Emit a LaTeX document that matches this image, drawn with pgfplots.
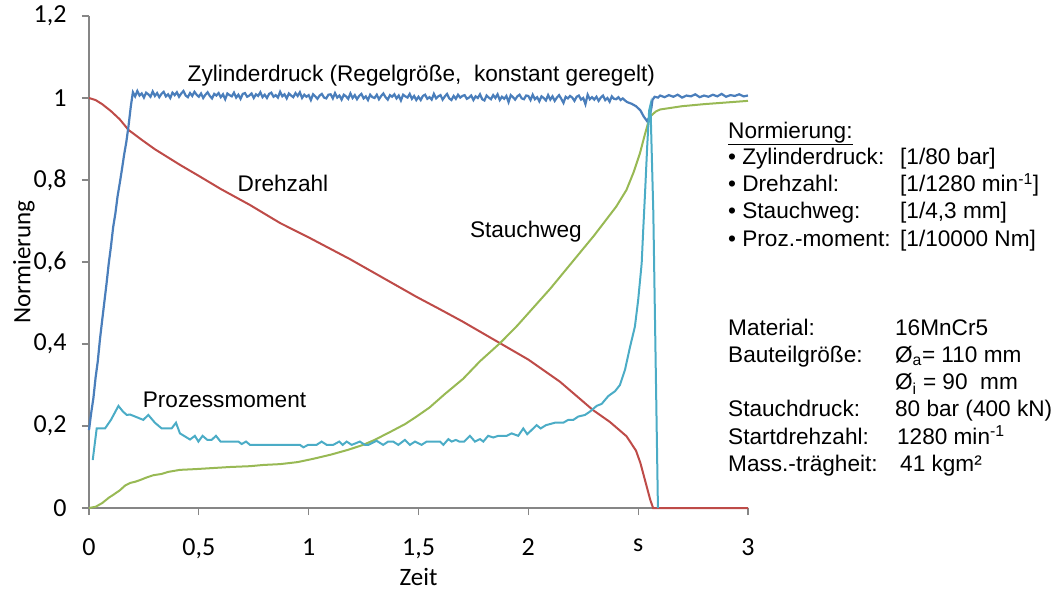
\documentclass[border=0pt]{standalone}
\usepackage{pgfplots}
\pgfplotsset{compat=1.18}
\usepackage{fontspec}
\setmainfont{Liberation Sans}
\newfontfamily\calibri{Carlito}
\definecolor{cblue}{HTML}{4A7EBB}
\definecolor{cred}{HTML}{BE4B48}
\definecolor{cgreen}{HTML}{98B954}
\definecolor{ccyan}{HTML}{4BACC6}
\definecolor{caxis}{HTML}{868686}

\pgfplotstableread{
x y
0.000 1.000
0.030 0.995
0.060 0.985
0.100 0.968
0.140 0.948
0.180 0.922
0.240 0.898
0.300 0.875
0.360 0.855
0.414 0.837
0.500 0.810
0.600 0.778
0.733 0.739
0.870 0.695
1.000 0.660
1.188 0.607
1.300 0.573
1.491 0.515
1.600 0.484
1.700 0.455
1.871 0.402
2.000 0.362
2.144 0.308
2.294 0.239
2.371 0.210
2.447 0.175
2.490 0.140
2.510 0.110
2.535 0.060
2.555 0.020
2.568 0.000
2.650 0.000
2.800 0.000
3.000 0.000
}\drehzahl

\pgfplotstableread{
x y
0.000 0.000
0.030 0.003
0.060 0.012
0.090 0.025
0.110 0.032
0.140 0.043
0.165 0.055
0.187 0.061
0.210 0.064
0.232 0.068
0.260 0.074
0.293 0.080
0.330 0.083
0.360 0.088
0.414 0.093
0.490 0.095
0.550 0.097
0.642 0.100
0.733 0.102
0.794 0.105
0.870 0.107
0.950 0.112
1.021 0.120
1.100 0.130
1.180 0.142
1.248 0.154
1.300 0.166
1.380 0.188
1.440 0.205
1.491 0.223
1.550 0.245
1.620 0.278
1.703 0.315
1.780 0.358
1.871 0.402
1.950 0.445
2.000 0.475
2.100 0.535
2.200 0.600
2.300 0.665
2.400 0.735
2.447 0.776
2.480 0.820
2.508 0.865
2.530 0.910
2.553 0.954
2.580 0.967
2.600 0.972
2.700 0.980
2.800 0.985
2.900 0.989
3.000 0.993
}\stauchweg

\pgfplotstableread{
x y
0.017 0.117
0.035 0.194
0.073 0.194
0.100 0.215
0.134 0.249
0.155 0.235
0.172 0.227
0.187 0.228
0.247 0.215
0.270 0.227
0.300 0.208
0.331 0.194
0.376 0.194
0.396 0.208
0.414 0.182
0.460 0.167
0.482 0.176
0.498 0.162
0.517 0.176
0.539 0.166
0.558 0.166
0.578 0.176
0.599 0.162
0.680 0.162
0.695 0.156
0.715 0.162
0.733 0.154
0.960 0.154
0.976 0.148
0.998 0.154
1.036 0.154
1.059 0.162
1.082 0.154
1.112 0.154
1.139 0.162
1.155 0.154
1.173 0.162
1.196 0.154
1.233 0.162
1.256 0.154
1.272 0.154
1.309 0.164
1.339 0.154
1.362 0.162
1.385 0.162
1.408 0.154
1.438 0.166
1.461 0.154
1.484 0.162
1.514 0.154
1.537 0.162
1.598 0.162
1.613 0.154
1.636 0.168
1.651 0.162
1.670 0.166
1.686 0.162
1.708 0.162
1.734 0.176
1.757 0.162
1.780 0.168
1.795 0.162
1.817 0.176
1.840 0.172
1.863 0.176
1.901 0.176
1.924 0.182
1.954 0.176
1.977 0.194
1.995 0.180
2.038 0.202
2.056 0.194
2.080 0.202
2.121 0.208
2.159 0.208
2.182 0.215
2.205 0.215
2.227 0.223
2.258 0.227
2.280 0.235
2.311 0.249
2.334 0.254
2.364 0.273
2.395 0.285
2.417 0.300
2.440 0.337
2.463 0.393
2.485 0.442
2.500 0.507
2.516 0.597
2.523 0.678
2.532 0.776
2.541 0.881
2.550 0.970
2.556 0.983
2.569 0.720
2.590 0.000
}\moment

\pgfplotstableread{
x y
0.000 0.190
0.010 0.232
0.020 0.268
0.030 0.318
0.040 0.358
0.050 0.412
0.060 0.458
0.070 0.503
0.080 0.548
0.090 0.597
0.100 0.638
0.110 0.685
0.120 0.718
0.130 0.760
0.140 0.792
0.150 0.826
0.160 0.862
0.170 0.893
0.180 0.932
0.190 0.978
0.197 1.004
0.20 1.014
0.21 1.004
0.22 1.017
0.23 1.006
0.24 1.011
0.25 1.001
0.26 1.013
0.27 1.009
0.28 1.003
0.29 1.016
0.30 1.005
0.31 1.012
0.32 1.002
0.33 1.010
0.34 1.015
0.35 1.004
0.36 1.009
0.37 1.000
0.38 1.013
0.39 1.007
0.40 1.014
0.41 1.003
0.42 1.011
0.43 1.017
0.44 1.006
0.45 1.002
0.46 1.012
0.47 1.005
0.48 1.015
0.49 1.008
0.50 1.003
0.51 1.011
0.52 1.000
0.53 1.008
0.54 1.014
0.55 1.005
0.56 0.999
0.57 1.010
0.58 1.006
0.59 1.012
0.60 1.002
0.61 1.009
0.62 0.997
0.63 1.011
0.64 1.007
0.65 1.004
0.66 1.013
0.67 1.001
0.68 1.008
0.69 0.998
0.70 1.010
0.71 1.012
0.72 1.003
0.73 1.006
0.74 1.011
0.75 1.000
0.76 1.009
0.77 1.005
0.78 1.014
0.79 1.002
0.80 1.008
0.81 1.000
0.82 1.010
0.83 1.013
0.84 1.003
0.85 1.007
0.86 1.001
0.87 1.015
0.88 1.004
0.89 1.009
0.90 0.999
0.91 1.011
0.92 1.006
0.93 1.002
0.94 1.012
0.95 1.005
0.96 1.014
0.97 1.000
0.98 1.008
0.99 1.003
1.00 1.007
1.01 0.995
1.02 1.009
1.03 1.004
1.04 0.998
1.05 1.006
1.06 1.010
1.07 1.001
1.08 0.999
1.09 1.008
1.10 1.009
1.11 0.999
1.12 1.012
1.13 1.001
1.14 1.006
1.15 0.996
1.16 1.008
1.17 1.004
1.18 0.998
1.19 1.011
1.20 1.000
1.21 1.007
1.22 0.997
1.23 1.005
1.24 1.010
1.25 0.999
1.26 1.004
1.27 0.995
1.28 1.008
1.29 1.002
1.30 1.000
1.31 1.008
1.32 0.997
1.33 1.005
1.34 1.011
1.35 1.002
1.36 0.996
1.37 1.007
1.38 1.003
1.39 1.009
1.40 0.999
1.41 1.006
1.42 0.994
1.43 1.008
1.44 1.004
1.45 1.001
1.46 1.010
1.47 0.998
1.48 1.005
1.49 0.995
1.50 1.003
1.51 0.995
1.52 1.005
1.53 1.008
1.54 0.998
1.55 1.002
1.56 0.996
1.57 1.010
1.58 0.999
1.59 1.004
1.60 1.007
1.61 0.996
1.62 1.004
1.63 1.010
1.64 0.999
1.65 0.995
1.66 1.005
1.67 0.998
1.68 1.008
1.69 1.001
1.70 1.005
1.71 1.007
1.72 0.998
1.73 1.001
1.74 1.006
1.75 0.995
1.76 1.004
1.77 1.000
1.78 1.009
1.79 0.997
1.80 0.994
1.81 1.006
1.82 1.001
1.83 0.997
1.84 1.007
1.85 1.000
1.86 1.009
1.87 0.995
1.88 1.003
1.89 0.998
1.90 1.005
1.91 0.990
1.92 1.007
1.93 1.002
1.94 0.996
1.95 1.004
1.96 1.008
1.97 0.999
1.98 0.997
1.99 1.006
2.00 1.005
2.01 0.995
2.02 1.008
2.03 0.997
2.04 1.002
2.05 0.992
2.06 1.004
2.07 1.000
2.08 0.994
2.09 1.007
2.10 0.996
2.11 1.004
2.12 0.993
2.13 1.001
2.14 1.007
2.15 0.998
2.16 0.988
2.17 1.003
2.18 0.999
2.19 1.005
2.20 1.001
2.21 0.993
2.22 1.003
2.23 1.006
2.24 0.996
2.25 1.000
2.26 0.985
2.27 1.008
2.28 0.997
2.29 1.002
2.30 0.996
2.31 1.003
2.32 0.993
2.33 1.001
2.34 1.006
2.35 0.995
2.36 1.000
2.37 0.991
2.38 1.004
2.39 0.998
2.40 0.997
2.41 1.002
2.42 0.995
2.43 0.999
2.44 0.994
2.45 0.990
2.47 0.986
2.49 0.980
2.51 0.970
2.525 0.955
2.54 0.944
2.55 0.952
2.56 0.975
2.565 0.995
2.575 1.003
2.59 1.001
2.60 1.006
2.62 1.002
2.64 1.007
2.66 1.003
2.68 1.008
2.70 1.001
2.72 1.006
2.74 1.004
2.76 1.009
2.78 1.002
2.80 1.006
2.82 1.003
2.84 1.008
2.86 1.004
2.88 1.010
2.90 1.003
2.92 1.007
2.94 1.005
2.96 1.009
2.98 1.004
3.00 1.006
}\zylinder

\begin{document}
\begin{tikzpicture}
\useasboundingbox (-89pt,-86pt) rectangle (965pt,508pt);
\begin{axis}[
  scale only axis,
  width=659pt, height=492pt,
  xmin=0, xmax=3, ymin=0, ymax=1.2,
  axis x line=bottom, axis y line=left,
  axis line style={-, caxis, line width=1.3pt},
  tick style={caxis, line width=1.3pt},
  tick align=outside,
  major tick length=7pt,
  xtick={0,0.5,1,1.5,2,2.5,3},
  xticklabels={0,{0,5},1,{1,5},2,s,3},
  ytick={0,0.2,0.4,0.6,0.8,1,1.2},
  yticklabels={0,{0,2},{0,4},{0,6},{0,8},1,{1,2}},
  ticklabel style={font=\calibri\fontsize{26}{30}\selectfont},
  xticklabel style={yshift=-20pt},
  yticklabel style={xshift=-12pt},
  xlabel={Zeit}, ylabel={Normierung},
  label style={font=\calibri\fontsize{25}{29}\selectfont},
  xlabel style={yshift=-3pt},
  ylabel style={yshift=-8pt},
  clip=false,
]
\addplot[cred, line width=2pt] table {\drehzahl};
\addplot[cgreen, line width=2pt] table {\stauchweg};
\addplot[cblue, line width=2.2pt] table {\zylinder};
\addplot[ccyan, line width=2pt] table {\moment};

\tikzset{lab/.style={anchor=base, inner sep=0pt, font=\fontsize{22.6}{26}\selectfont},
         ann/.style={anchor=base west, inner sep=0pt, font=\fontsize{22.6}{26}\selectfont}}
\node[lab] at (axis cs:1.513,1.041) {Zylinderdruck (Regelgröße,\ \ konstant geregelt)};
\node[lab] at (axis cs:0.883,0.771) {Drehzahl};
\node[lab] at (axis cs:1.989,0.659) {Stauchweg};
\node[lab] at (axis cs:0.617,0.244) {Prozessmoment};

\node[ann] at (axis cs:2.909,0.902) {\underline{Normierung:}};
\node[ann] at (axis cs:2.909,0.837) {• Zylinderdruck:};
\node[ann] at (axis cs:2.909,0.771) {• Drehzahl:};
\node[ann] at (axis cs:2.909,0.705) {• Stauchweg:};
\node[ann] at (axis cs:2.909,0.639) {• Proz.-moment:};
\node[ann] at (axis cs:3.692,0.837) {[1/80 bar]};
\node[ann] at (axis cs:3.692,0.771) {[1/1280 min\textsuperscript{-1}]};
\node[ann] at (axis cs:3.692,0.705) {[1/4,3 mm]};
\node[ann] at (axis cs:3.692,0.639) {[1/10000 Nm]};

\node[ann] at (axis cs:2.909,0.420) {Material:};
\node[ann] at (axis cs:2.909,0.354) {Bauteilgröße:};
\node[ann] at (axis cs:2.909,0.222) {Stauchdruck:};
\node[ann] at (axis cs:2.909,0.156) {Startdrehzahl:};
\node[ann] at (axis cs:2.909,0.090) {Mass.-trägheit:};
\node[ann] at (axis cs:3.669,0.420) {16MnCr5};
\node[ann] at (axis cs:3.669,0.354) {Ø\textsubscript{a}= 110 mm};
\node[ann] at (axis cs:3.669,0.288) {Ø\textsubscript{i} = 90\ \ mm};
\node[ann] at (axis cs:3.669,0.222) {80 bar (400 kN)};
\node[ann] at (axis cs:3.678,0.156) {1280 min\textsuperscript{-1}};
\node[ann] at (axis cs:3.692,0.090) {41 kgm²};
\end{axis}
\end{tikzpicture}
\end{document}
